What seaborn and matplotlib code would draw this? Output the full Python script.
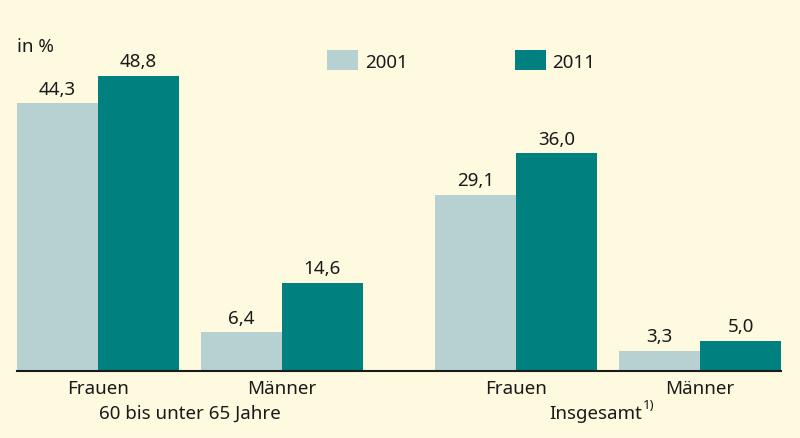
import matplotlib
matplotlib.use("Agg")
import matplotlib.pyplot as plt
import matplotlib.transforms as mtransforms
from matplotlib.patches import Patch
import seaborn as sns
import pandas as pd

# ---- data ----
groups = ["60 bis unter 65 Jahre", "60 bis unter 65 Jahre", "Insgesamt", "Insgesamt"]
categories = ["Frauen", "Männer", "Frauen", "Männer"]
years = ["2001", "2011"]
values_2001 = [44.3, 6.4, 29.1, 3.3]
values_2011 = [48.8, 14.6, 36.0, 5.0]
group_labels = ["60 bis unter 65 Jahre", "Insgesamt"]
footnote = "1)"

# ---- layout ----
positions = [0.0, 1.0, 2.272, 3.272]
bg = "#FEFADF"
c_light = "#B7D1D3"
c_dark = "#00807F"
txt = "#1a1a1a"
fs = 13.5

sns.set_theme(style="white")
plt.rcParams["font.family"] = ["Noto Sans", "DejaVu Sans"]

rows = []
for i, cat in enumerate(categories):
    rows.append({"pos": positions[i], "year": years[0], "value": values_2001[i]})
    rows.append({"pos": positions[i], "year": years[1], "value": values_2011[i]})
df = pd.DataFrame(rows)

fig = plt.figure(figsize=(8, 4.39), dpi=100, facecolor=bg)
ax = fig.add_axes([17 / 800, 1 - 372 / 439, (781 - 17) / 800, (372 - 60) / 439])
ax.set_facecolor(bg)

sns.barplot(data=df, x="pos", y="value", hue="year", hue_order=years,
            palette=[c_light, c_dark], native_scale=True, width=0.88,
            saturation=1, linewidth=0, ax=ax, legend=False)

ax.set_xlim(-0.44, 3.712)
ax.set_ylim(0, 51.6)
for s in ["top", "right", "left"]:
    ax.spines[s].set_visible(False)
ax.spines["bottom"].set_color(txt)
ax.spines["bottom"].set_linewidth(1.5)
ax.set_yticks([])
ax.set_xlabel("")
ax.set_ylabel("")
ax.set_xticks(positions)
ax.set_xticklabels(categories, fontsize=fs, color=txt)
ax.tick_params(axis="x", length=0, pad=6)

for cont in ax.containers:
    for bar in cont:
        h = bar.get_height()
        ax.annotate(f"{h:.1f}".replace(".", ","),
                    (bar.get_x() + bar.get_width() / 2, h),
                    xytext=(0, 4), textcoords="offset points",
                    ha="center", va="bottom", fontsize=fs, color=txt)

trans = mtransforms.blended_transform_factory(ax.transData, fig.transFigure)
ax.text((positions[0] + positions[1]) / 2, 1 - 414 / 439, group_labels[0],
        transform=trans, ha="center", va="center", fontsize=fs, color=txt)
fig.text(642 / 800, 1 - 414 / 439, group_labels[1],
         ha="right", va="center", fontsize=fs, color=txt)
fig.text(643 / 800, 1 - 406 / 439, footnote,
         ha="left", va="center", fontsize=9.5, color=txt)

fig.text(17 / 800, 1 - 47 / 439, "in %", ha="left", va="center",
         fontsize=fs, color=txt)

handles = [Patch(facecolor=c_light, edgecolor="none"),
           Patch(facecolor=c_dark, edgecolor="none")]
fig.legend(handles, years, loc="center left",
           bbox_to_anchor=(327 / 800, 1 - 61.5 / 439), ncol=2, frameon=False,
           fontsize=fs, handlelength=1.65, handleheight=1.22,
           handletextpad=0.37, columnspacing=5.7, borderpad=0,
           borderaxespad=0, labelcolor=txt)

fig.savefig("out.png", dpi=100, facecolor=bg)
